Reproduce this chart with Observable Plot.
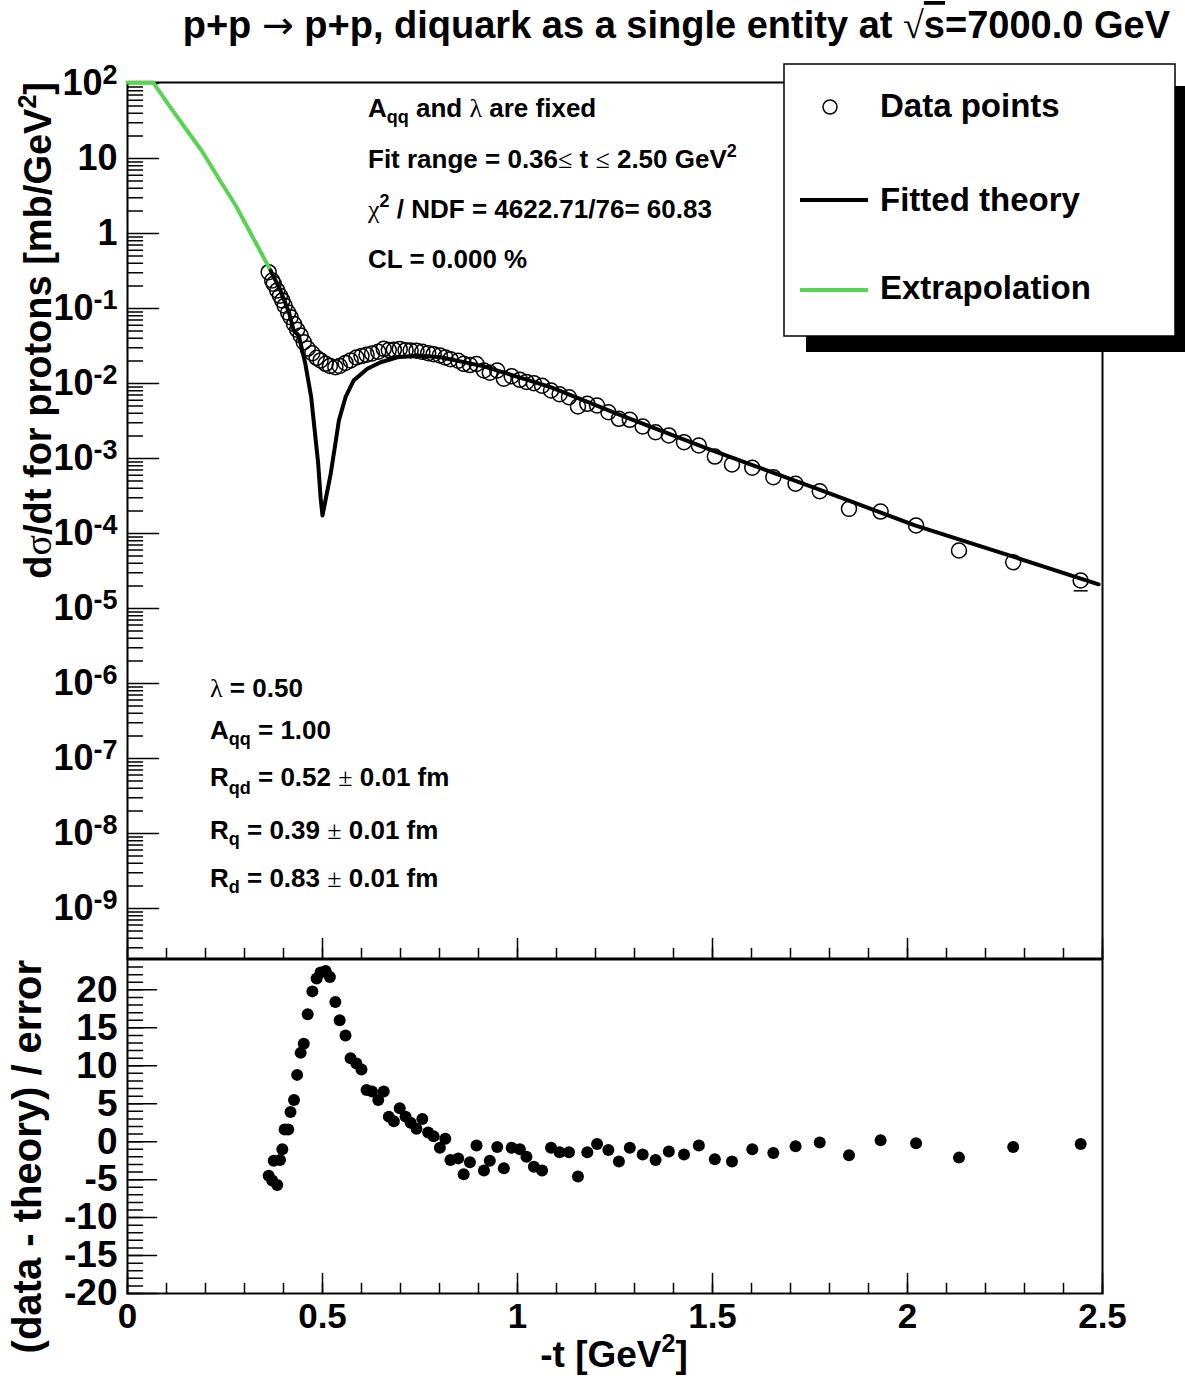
<!DOCTYPE html>
<html><head><meta charset="utf-8">
<script src="https://cdn.jsdelivr.net/npm/d3@7"></script>
<script src="https://cdn.jsdelivr.net/npm/@observablehq/plot@0.6"></script>
<style>
body{margin:0;background:#fff;}
#wrap{position:relative;width:1185px;height:1378px;background:#fff;overflow:hidden;}
.sym{font-family:"Liberation Serif","DejaVu Serif",serif;font-weight:normal;}
.arr{font-family:"DejaVu Sans",sans-serif;font-weight:normal;}
</style></head><body><div id="wrap"></div>
<script>
// ---- data ----
const tValues = [0.362,0.371,0.375,0.384,0.391,0.397,0.403,0.412,0.418,0.427,
0.435,0.444,0.452,0.462,0.474,0.485,0.495,0.508,0.519,0.533,
0.544,0.559,0.572,0.587,0.600,0.613,0.627,0.643,0.657,0.670,
0.683,0.698,0.713,0.726,0.741,0.756,0.771,0.785,0.801,0.815,
0.828,0.848,0.862,0.878,0.895,0.914,0.929,0.948,0.965,0.985,
1.006,1.023,1.042,1.063,1.086,1.108,1.132,1.155,1.179,1.204,
1.233,1.260,1.288,1.321,1.354,1.388,1.427,1.465,1.506,1.550,
1.602,1.656,1.713,1.775,1.850,1.931,2.022,2.132,2.271,2.444];
const dsigmaValues = [0.305,0.236,0.213,0.174,0.148,0.128,0.109,0.0881,0.0767,0.0621,
0.0521,0.0437,0.0356,0.0292,0.0253,0.0220,0.0203,0.0183,0.0171,0.0165,
0.0171,0.0188,0.0203,0.0222,0.0232,0.0242,0.0251,0.0265,0.0290,0.0279,
0.0281,0.0288,0.0278,0.0275,0.0274,0.0264,0.0254,0.0246,0.0237,0.0222,
0.0211,0.0201,0.0183,0.0176,0.0182,0.0149,0.0139,0.0149,0.0116,0.0125,
0.0112,0.0105,0.0101,0.00935,0.00807,0.00718,0.00655,0.00493,0.00536,0.00509,
0.00414,0.00338,0.00328,0.00267,0.00224,0.00203,0.00165,0.00149,0.00106,0.000832,
0.000752,0.000564,0.000460,0.000366,0.000213,0.000196,0.000128,0.0000593,0.0000414,0.0000236];
const residualValues = [-4.5,-5.1,-2.5,-5.7,-2.4,-1.0,1.6,1.6,3.9,5.5,
8.8,11.7,12.9,16.8,19.8,21.5,22.3,22.5,21.7,18.4,
16.0,14.0,11.0,10.3,9.5,6.8,6.6,5.5,6.6,3.3,
2.7,4.4,3.3,2.5,1.7,3.0,1.2,0.7,-0.8,0.4,
-2.4,-2.2,-4.3,-2.7,-0.5,-3.8,-2.5,-0.7,-3.5,-0.8,
-1.0,-2.0,-3.3,-3.8,-0.8,-1.4,-1.4,-4.6,-1.4,-0.3,
-1.1,-2.6,-0.8,-1.7,-2.4,-1.3,-1.7,-0.5,-2.3,-2.6,
-1.0,-1.5,-0.6,-0.1,-1.8,0.2,-0.2,-2.1,-0.7,-0.3];
const theoryT = [0.367,0.392,0.414,0.426,0.439,0.456,0.471,0.480,0.489,0.495,0.500,0.521,0.533,0.542,0.559,0.580,0.615,0.649,0.692,0.744,0.803,0.914,1.085,1.256,1.487,1.781,2.019,2.275,2.490];
const theoryValues = [0.32,0.174,0.0893,0.0509,0.0437,0.0183,0.00657,0.00236,0.00085,0.000305,0.000174,0.000625,0.00157,0.00321,0.00657,0.011,0.0157,0.0192,0.0224,0.0236,0.0224,0.0169,0.00894,0.00394,0.00135,0.000374,0.000128,0.0000483,0.000021];
const extrapT = [0,0.066,0.106,0.149,0.192,0.234,0.277,0.320,0.367];
const extrapValues = [103,103,51.4,25.1,12.3,5.41,2.38,0.92,0.32];
const errT = [2.444];
const errLow = [0.0000172];
// axis ticks
const decadeTicks = [1e-9,1e-8,1e-7,1e-6,1e-5,1e-4,1e-3,1e-2,1e-1,1,10,100];
const decadeLabels = ["10^-9","10^-8","10^-7","10^-6","10^-5","10^-4","10^-3","10^-2","10^-1","1","10","10^2"];
const resMajorTicks = [-20,-15,-10,-5,0,5,10,15,20];
const xMajorTicks = [0,0.5,1,1.5,2,2.5];
const xTickLabels = ["0","0.5","1","1.5","2","2.5"];

const GREEN = "#59d354";
const yDomain = [Math.pow(10,-9.667), Math.pow(10,2.0133)];
const logMinor = [];
for (let e=-10;e<=2;e++) for (let m=2;m<=9;m++){const v=m*Math.pow(10,e); if(v>=yDomain[0]&&v<=yDomain[1]) logMinor.push(v);}
const resMinor = d3.range(-20,24,1);
const xMinor = d3.range(0,2.5001,0.1);

const points = tValues.map((t,i)=>({t, v: dsigmaValues[i], r: residualValues[i]}));
const theory = theoryT.map((t,i)=>({t, v: theoryValues[i]}));
const extrap = extrapT.map((t,i)=>({t, v: extrapValues[i]}));
const errs = errT.map((t,i)=>({t, lo: errLow[i]}));

const tickShape = {draw(ctx, l){ctx.moveTo(0,0); ctx.lineTo(0,-l);}};
const capSymbol = {draw(ctx, size){const r=Math.sqrt(size/Math.PI); ctx.moveTo(-r,0); ctx.lineTo(r,0);}};
const font = '"Liberation Sans", Arial, sans-serif';
const baseStyle = {fontFamily: font, fontWeight: "bold", fontSize: "35px", background: "transparent", overflow: "visible", position: "absolute", left: "0px"};

const topPlot = Plot.plot({
  width: 1185, height: 960,
  marginTop: 82, marginBottom: 2, marginLeft: 127, marginRight: 83,
  x: {domain: [0, 2.5], axis: null},
  y: {type: "log", domain: yDomain},
  style: {...baseStyle, top: "0px"},
  marks: [
    Plot.frame({stroke: "black", strokeWidth: 2}),
    Plot.vector(logMinor, {y: d=>d, frameAnchor: "left", length: 15, rotate: 90, anchor: "start", shape: tickShape, stroke: "black", strokeWidth: 1.5}),
    Plot.vector(decadeTicks, {y: d=>d, frameAnchor: "left", length: 31, rotate: 90, anchor: "start", shape: tickShape, stroke: "black", strokeWidth: 1.5}),
    Plot.vector(xMinor, {x: d=>d, frameAnchor: "bottom", length: 10, rotate: 0, anchor: "start", shape: tickShape, stroke: "black", strokeWidth: 1.5}),
    Plot.vector(xMajorTicks, {x: d=>d, frameAnchor: "bottom", length: 20, rotate: 0, anchor: "start", shape: tickShape, stroke: "black", strokeWidth: 1.5}),
    Plot.axisY(decadeTicks, {tickSize: 0, tickPadding: 10, label: null, fontSize: 36, tickFormat: d => decadeLabels[decadeTicks.indexOf(d)]}),
    Plot.dot(points, {x: "t", y: "v", r: 7.5, stroke: "black", strokeWidth: 1.5, fill: "none"}),
    Plot.dot(errs, {x: "t", y: "lo", r: 7, symbol: capSymbol, stroke: "black", strokeWidth: 1.5, fill: "none"}),
    Plot.line(extrap, {x: "t", y: "v", stroke: GREEN, strokeWidth: 4}),
    Plot.line(theory, {x: "t", y: "v", stroke: "black", strokeWidth: 4})
  ]
});

const botPlot = Plot.plot({
  width: 1185, height: 438,
  marginTop: 19, marginBottom: 85, marginLeft: 127, marginRight: 83,
  x: {domain: [0, 2.5]},
  y: {domain: [-20, 24]},
  style: {...baseStyle, top: "940px"},
  marks: [
    Plot.frame({stroke: "black", strokeWidth: 2}),
    Plot.vector(resMinor, {y: d=>d, frameAnchor: "left", length: 15, rotate: 90, anchor: "start", shape: tickShape, stroke: "black", strokeWidth: 1.5}),
    Plot.vector(resMajorTicks, {y: d=>d, frameAnchor: "left", length: 29, rotate: 90, anchor: "start", shape: tickShape, stroke: "black", strokeWidth: 1.5}),
    Plot.vector(xMinor, {x: d=>d, frameAnchor: "bottom", length: 10, rotate: 0, anchor: "start", shape: tickShape, stroke: "black", strokeWidth: 1.5}),
    Plot.vector(xMajorTicks, {x: d=>d, frameAnchor: "bottom", length: 20, rotate: 0, anchor: "start", shape: tickShape, stroke: "black", strokeWidth: 1.5}),
    Plot.axisY(resMajorTicks, {tickSize: 0, tickPadding: 10, label: null, fontSize: 37, tickFormat: d => String(d)}),
    Plot.axisX(xMajorTicks, {tickSize: 0, tickPadding: 10, label: null, fontSize: 35, tickFormat: d => xTickLabels[xMajorTicks.indexOf(d)]}),
    Plot.dot(points, {x: "t", y: "r", r: 6, fill: "black"})
  ]
});

// superscripts in log tick labels
function supify(svg){
  svg.querySelectorAll("text").forEach(el => {
    const s = el.textContent;
    if (el.children.length === 0 && /^10\^/.test(s)) {
      const [base, exp] = s.split("^");
      el.textContent = "";
      const t1 = document.createElementNS("http://www.w3.org/2000/svg","tspan"); t1.textContent = base;
      const t2 = document.createElementNS("http://www.w3.org/2000/svg","tspan"); t2.textContent = exp;
      t2.setAttribute("dy","-0.42em"); t2.setAttribute("font-size","27");
      el.appendChild(t1); el.appendChild(t2);
    }
  });
}
supify(topPlot);

const wrap = document.getElementById("wrap");
wrap.appendChild(topPlot);
wrap.appendChild(botPlot);

const overlay = `
<svg width="1185" height="1378" style="position:absolute;left:0;top:0;pointer-events:none" font-family='"Liberation Sans", Arial, sans-serif' font-weight="bold" fill="black">
 <text x="1170" y="38" text-anchor="end" font-size="38">p+p <tspan class="arr">→</tspan> p+p, diquark as a single entity at <tspan class="sym">√</tspan><tspan text-decoration="overline">s</tspan>=7000.0 GeV</text>
 <rect x="806" y="86" width="379" height="266" fill="black"/>
 <rect x="784" y="64" width="391" height="272" fill="white" stroke="black" stroke-width="1.5"/>
 <circle cx="830" cy="107" r="7" fill="none" stroke="black" stroke-width="1.5"/>
 <text x="880" y="117" font-size="33">Data points</text>
 <line x1="800" x2="868" y1="200" y2="200" stroke="black" stroke-width="4"/>
 <text x="880" y="211" font-size="33">Fitted theory</text>
 <line x1="800" x2="868" y1="290" y2="290" stroke="${GREEN}" stroke-width="4"/>
 <text x="880" y="299" font-size="33">Extrapolation</text>
 <g font-size="26">
  <text x="368" y="117">A<tspan font-size="18" dy="6">qq</tspan><tspan dy="-6"> and </tspan><tspan class="sym">λ</tspan> are fixed</text>
  <text x="368" y="168">Fit range = 0.36<tspan class="sym">≤</tspan> t <tspan class="sym">≤</tspan> 2.50 GeV<tspan font-size="18" dy="-11">2</tspan></text>
  <text x="368" y="218"><tspan class="sym">χ</tspan><tspan font-size="18" dy="-11">2</tspan><tspan dy="11"> / NDF = 4622.71/76= 60.83</tspan></text>
  <text x="368" y="268">CL = 0.000 %</text>
  <text x="210" y="697"><tspan class="sym">λ</tspan> = 0.50</text>
  <text x="210" y="739">A<tspan font-size="18" dy="6">qq</tspan><tspan dy="-6"> = 1.00</tspan></text>
  <text x="210" y="786">R<tspan font-size="18" dy="8">qd</tspan><tspan dy="-8"> = 0.52 </tspan><tspan class="sym">±</tspan> 0.01 fm</text>
  <text x="210" y="839">R<tspan font-size="18" dy="6">q</tspan><tspan dy="-6"> = 0.39 </tspan><tspan class="sym">±</tspan> 0.01 fm</text>
  <text x="210" y="887">R<tspan font-size="18" dy="6">d</tspan><tspan dy="-6"> = 0.83 </tspan><tspan class="sym">±</tspan> 0.01 fm</text>
 </g>
 <text transform="translate(51,82) rotate(-90)" text-anchor="end" font-size="38">d<tspan class="sym">σ</tspan>/dt for protons [mb/GeV<tspan font-size="25" dy="-15">2</tspan><tspan dy="15">]</tspan></text>
 <text transform="translate(41,960) rotate(-90)" text-anchor="end" font-size="40">(data - theory) / error</text>
 <text x="614" y="1367" text-anchor="middle" font-size="37">-t [GeV<tspan font-size="25" dy="-15">2</tspan><tspan dy="15">]</tspan></text>
</svg>`;
wrap.insertAdjacentHTML("beforeend", overlay);
</script>
</body></html>
